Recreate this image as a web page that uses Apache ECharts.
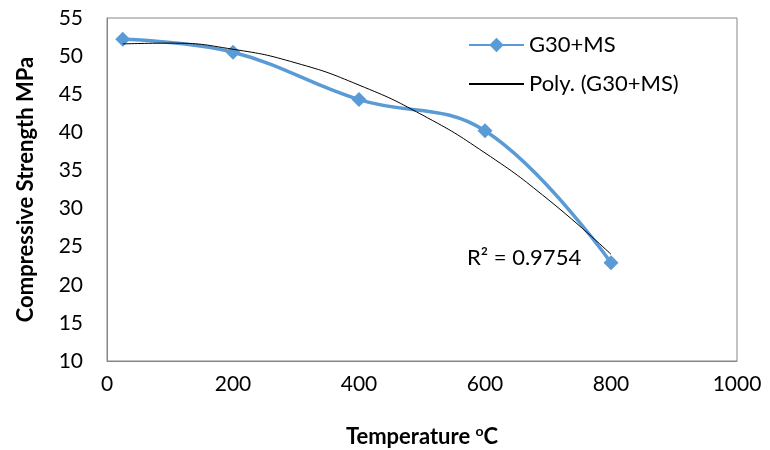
<!DOCTYPE html>
<html>
<head>
<meta charset="utf-8">
<script src="https://cdn.jsdelivr.net/npm/echarts@6/dist/echarts.min.js"></script>
<style>
  html, body { margin: 0; padding: 0; background: #fff; }
  #main { width: 770px; height: 450px; }
</style>
</head>
<body>
<div id="main"></div>
<script>
// measured points
var temps = [25, 200, 400, 600, 800];
var strength = [52.2, 50.5, 44.3, 40.2, 22.9];

// polynomial trendline
var trendTemps = [25, 100, 200, 300, 400, 500, 600, 700, 800];
var trendStrength = [51.6, 51.7, 50.9, 49.1, 46.2, 42.3, 37.3, 31.2, 24.0];

var xTicks = [0, 200, 400, 600, 800, 1000];
var yTicks = [10, 15, 20, 25, 30, 35, 40, 45, 50, 55];

var font = 'Lato, "Open Sans", sans-serif';

var myChart = echarts.init(document.getElementById('main'));

function pairs(xs, ys) {
  return xs.map(function (x, i) { return [x, ys[i]]; });
}

myChart.setOption({
  animation: false,
  textStyle: { fontFamily: font },
  grid: {
    left: 107, right: 33, top: 18, bottom: 89,
    outerBoundsMode: 'none',
    show: true, borderColor: '#868686', borderWidth: 1
  },
  legend: {
    orient: 'vertical',
    left: 463, top: 29,
    itemWidth: 55, itemHeight: 18, itemGap: 17,
    textStyle: { fontSize: 22, color: '#000', fontFamily: font },
    data: [
      { name: 'G30+MS' },
      { name: 'Poly. (G30+MS)', itemStyle: { opacity: 0 } }
    ]
  },
  xAxis: {
    type: 'value',
    min: xTicks[0], max: xTicks[xTicks.length - 1], interval: 200,
    name: 'Temperature {sup|o}C',
    nameLocation: 'middle', nameGap: 63,
    nameTextStyle: {
      fontSize: 22, fontWeight: 'bold', color: '#000', fontFamily: font,
      rich: { sup: { fontSize: 14, fontWeight: 'bold', verticalAlign: 'top', padding: [0, 0, 11, 0] } }
    },
    axisLine: { lineStyle: { color: '#868686' } },
    axisTick: { show: false },
    splitLine: { show: false },
    axisLabel: {
      fontSize: 21, color: '#000', margin: 13, fontFamily: font,
      formatter: function (v) { return String(v); }
    }
  },
  yAxis: {
    type: 'value',
    min: yTicks[0], max: yTicks[yTicks.length - 1], interval: 5,
    name: 'Compressive Strength MPa',
    nameLocation: 'middle', nameGap: 70,
    nameTextStyle: { fontSize: 22, fontWeight: 'bold', color: '#000', fontFamily: font },
    axisLine: { show: true, lineStyle: { color: '#868686' } },
    axisTick: { show: false },
    splitLine: { show: false },
    axisLabel: { fontSize: 21, color: '#000', margin: 24, fontFamily: font }
  },
  graphic: [{
    type: 'text',
    left: 467, top: 247,
    style: { text: 'R² = 0.9754', fontSize: 22, fill: '#000', fontFamily: font }
  }],
  series: [
    {
      name: 'G30+MS',
      type: 'line',
      smooth: 0.4,
      data: pairs(temps, strength),
      symbol: 'diamond',
      symbolSize: 15,
      itemStyle: { color: '#5B9BD5' },
      lineStyle: { color: '#5B9BD5', width: 3.5 },
      z: 2
    },
    {
      name: 'Poly. (G30+MS)',
      type: 'line',
      smooth: true,
      data: pairs(trendTemps, trendStrength),
      symbol: 'none',
      itemStyle: { color: '#000' },
      lineStyle: { color: '#000', width: 1 },
      z: 3
    }
  ]
});
</script>
</body>
</html>
